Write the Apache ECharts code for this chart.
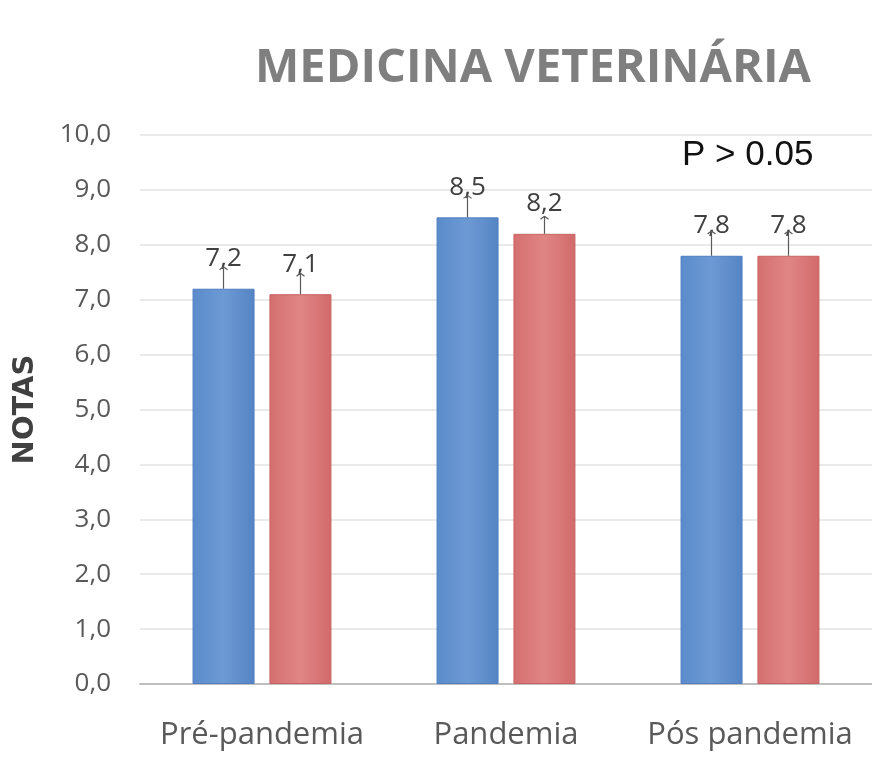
<!DOCTYPE html>
<html>
<head>
<meta charset="utf-8">
<script src="https://cdn.jsdelivr.net/npm/echarts@6/dist/echarts.min.js"></script>
<style>
  html, body { margin: 0; padding: 0; background: #fff; }
  #chart { width: 872px; height: 758px; }
</style>
</head>
<body>
<div id="chart"></div>
<script>
// dados
const categories = ['Pré-pandemia', 'Pandemia', 'Pós pandemia'];
const serieA = [7.2, 8.5, 7.8];
const serieB = [7.1, 8.2, 7.8];
const erroA = [0.4, 0.4, 0.45];
const erroB = [0.38, 0.32, 0.45];

const BAR_W = 62;
const HALF = 38.5; // distância do centro da categoria até o centro da barra

function fmt(v) {
  return v.toFixed(1).replace('.', ',');
}

function errorSeries(vals, errs, offset) {
  return {
    type: 'custom',
    z: 5,
    silent: true,
    data: vals.map((v, i) => [i, v, errs[i]]),
    renderItem: function (params, api) {
      const i = api.value(0);
      const base = api.coord([i, api.value(1)]);
      const top = api.coord([i, api.value(1) + api.value(2)]);
      const x = base[0] + offset;
      return {
        type: 'group',
        children: [
          { type: 'line', shape: { x1: x, y1: base[1], x2: x, y2: top[1] }, style: { stroke: '#595959', lineWidth: 1.2 } },
          { type: 'line', shape: { x1: x - 4, y1: top[1] + 3, x2: x, y2: top[1] }, style: { stroke: '#595959', lineWidth: 1.2 } },
          { type: 'line', shape: { x1: x + 4, y1: top[1] + 3, x2: x, y2: top[1] }, style: { stroke: '#595959', lineWidth: 1.2 } }
        ]
      };
    }
  };
}

const chart = echarts.init(document.getElementById('chart'));
chart.setOption({
  animation: false,
  title: {
    text: 'MEDICINA VETERINÁRIA',
    left: 528,
    textAlign: 'center',
    top: 40,
    textStyle: { fontFamily: 'Open Sans', fontWeight: 'bold', fontSize: 47, color: '#7f7f7f' }
  },
  graphic: [{
    type: 'text',
    left: 682,
    top: 138,
    style: { text: 'P > 0.05', fontFamily: 'Liberation Sans', fontSize: 35, fill: '#111' }
  }],
  grid: { left: 140, right: -3, top: 135, bottom: 74 },
  xAxis: {
    type: 'category',
    data: categories,
    axisTick: { show: false },
    axisLine: { lineStyle: { color: '#bfbfbf', width: 2 } },
    axisLabel: { interval: 0, hideOverlap: false, fontFamily: 'Open Sans', fontSize: 31, color: '#595959', margin: 36 }
  },
  yAxis: {
    type: 'value',
    min: 0,
    max: 10,
    interval: 1,
    name: 'NOTAS',
    nameLocation: 'middle',
    nameGap: 100,
    nameRotate: 90,
    nameTextStyle: { fontFamily: 'DejaVu Sans', fontWeight: 'bold', fontSize: 29, color: '#404040' },
    axisLine: { show: false },
    axisTick: { show: false },
    splitLine: { lineStyle: { color: '#e3e3e3', width: 1.5 } },
    axisLabel: { fontFamily: 'Open Sans', fontSize: 26, color: '#595959', margin: 29, formatter: v => fmt(v) }
  },
  series: [
    {
      type: 'bar',
      data: serieA,
      barWidth: BAR_W,
      barGap: '24%',
      itemStyle: {
        color: new echarts.graphic.LinearGradient(0, 0, 1, 0, [
          { offset: 0, color: '#5b8bcb' }, { offset: 0.5, color: '#6d9ad4' }, { offset: 1, color: '#5584c4' }
        ]),
        borderColor: '#4f7fc0', borderWidth: 1
      },
      label: { show: true, position: 'top', distance: 17, formatter: p => fmt(p.value), fontFamily: 'Open Sans', fontSize: 26, color: '#404040' }
    },
    {
      type: 'bar',
      data: serieB,
      barWidth: BAR_W,
      itemStyle: {
        color: new echarts.graphic.LinearGradient(0, 0, 1, 0, [
          { offset: 0, color: '#d56f6f' }, { offset: 0.5, color: '#e08585' }, { offset: 1, color: '#d26a6a' }
        ]),
        borderColor: '#c96262', borderWidth: 1
      },
      label: { show: true, position: 'top', distance: 17, formatter: p => fmt(p.value), fontFamily: 'Open Sans', fontSize: 26, color: '#404040' }
    },
    errorSeries(serieA, erroA, -HALF),
    errorSeries(serieB, erroB, HALF)
  ]
});
</script>
</body>
</html>
